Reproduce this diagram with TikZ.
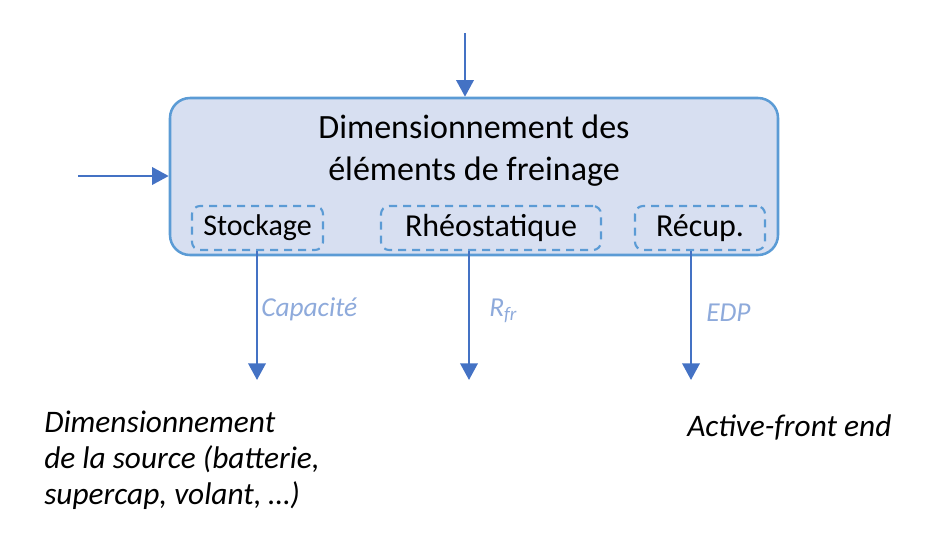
\documentclass[tikz,border=0pt]{standalone}
\usepackage{fontspec}
\setmainfont{Carlito}
\usepackage{xcolor}
\usepackage{tikz}
\usetikzlibrary{
  arrows.meta,
  positioning
}
\definecolor{BoxFill}{RGB}{215, 223, 241}
\definecolor{BoxLine}{RGB}{91, 155, 213}
\definecolor{ArrowBlue}{RGB}{68, 114, 196}
\definecolor{LabelBlue}{RGB}{142, 170, 219}
\tikzset{
    mainbox/.style={rectangle, fill=BoxFill, draw=BoxLine, line width=1.9pt, rounded corners=15pt},
    subbox/.style={rectangle, draw=BoxLine, line width=1.6pt, dash pattern=on 6pt off 4.5pt, rounded corners=6pt, minimum height=33pt, inner sep=0pt},
    fleche/.style={draw=ArrowBlue, fill=ArrowBlue, line width=1.9pt, -{Triangle[length=12.5pt, width=13pt]}},
    etiquette/.style={font=\fontsize{20.5}{24}\selectfont\itshape, text=LabelBlue, anchor=west, inner sep=0pt},
    sortie/.style={font=\fontsize{23.5}{27}\selectfont\itshape, align=left, inner sep=0pt}
}

\begin{document}
\begin{tikzpicture}[x=0.75pt, y=-0.75pt]
    \useasboundingbox (0,0) rectangle (925,558);
    % bloc principal
    \node[mainbox, minimum width=456pt, minimum height=117.75pt] (frein) at (474,176.5) {};
    \node[font=\fontsize{25.5}{31.5}\selectfont, align=center, inner sep=0pt] (titre) at (474,151) {Dimensionnement des\\éléments de freinage};
    % sous-blocs
    \node[subbox, minimum width=98.25pt, font=\fontsize{22.5}{27}\selectfont] (stock) at (257.5,228) {Stockage};
    \node[subbox, minimum width=165pt, font=\fontsize{24}{29}\selectfont] (rheo) at (491,228) {Rhéostatique};
    \node[subbox, minimum width=97.5pt, font=\fontsize{24}{29}\selectfont] (recup) at (700,228) {Récup.};
    % entrees
    \coordinate (haut) at (465,33);
    \coordinate (gauche) at (78,176);
    \draw[fleche] (haut) -- (haut |- frein.north);
    \draw[fleche] (gauche) -- (gauche -| frein.west);
    % sorties
    \coordinate (sfin) at (257,380);
    \coordinate (rfin) at (469,380);
    \coordinate (efin) at (691,380);
    \draw[fleche] (stock.south -| sfin) -- (sfin);
    \draw[fleche] (rheo.south -| rfin) -- (rfin);
    \draw[fleche] (recup.south -| efin) -- (efin);
    \node[etiquette] (capa) at (261,309) {Capacité};
    \node[etiquette] (rfr) at (489,311) {R\textsubscript{fr}};
    \node[etiquette] (edp) at (706,313) {EDP};
    \node[sortie, anchor=north west] (source) at (44,411) {Dimensionnement\\de la source (batterie,\\supercap, volant, …)};
    \node[sortie, anchor=west] (afe) at (687,427) {Active-front end};
\end{tikzpicture}
\end{document}
